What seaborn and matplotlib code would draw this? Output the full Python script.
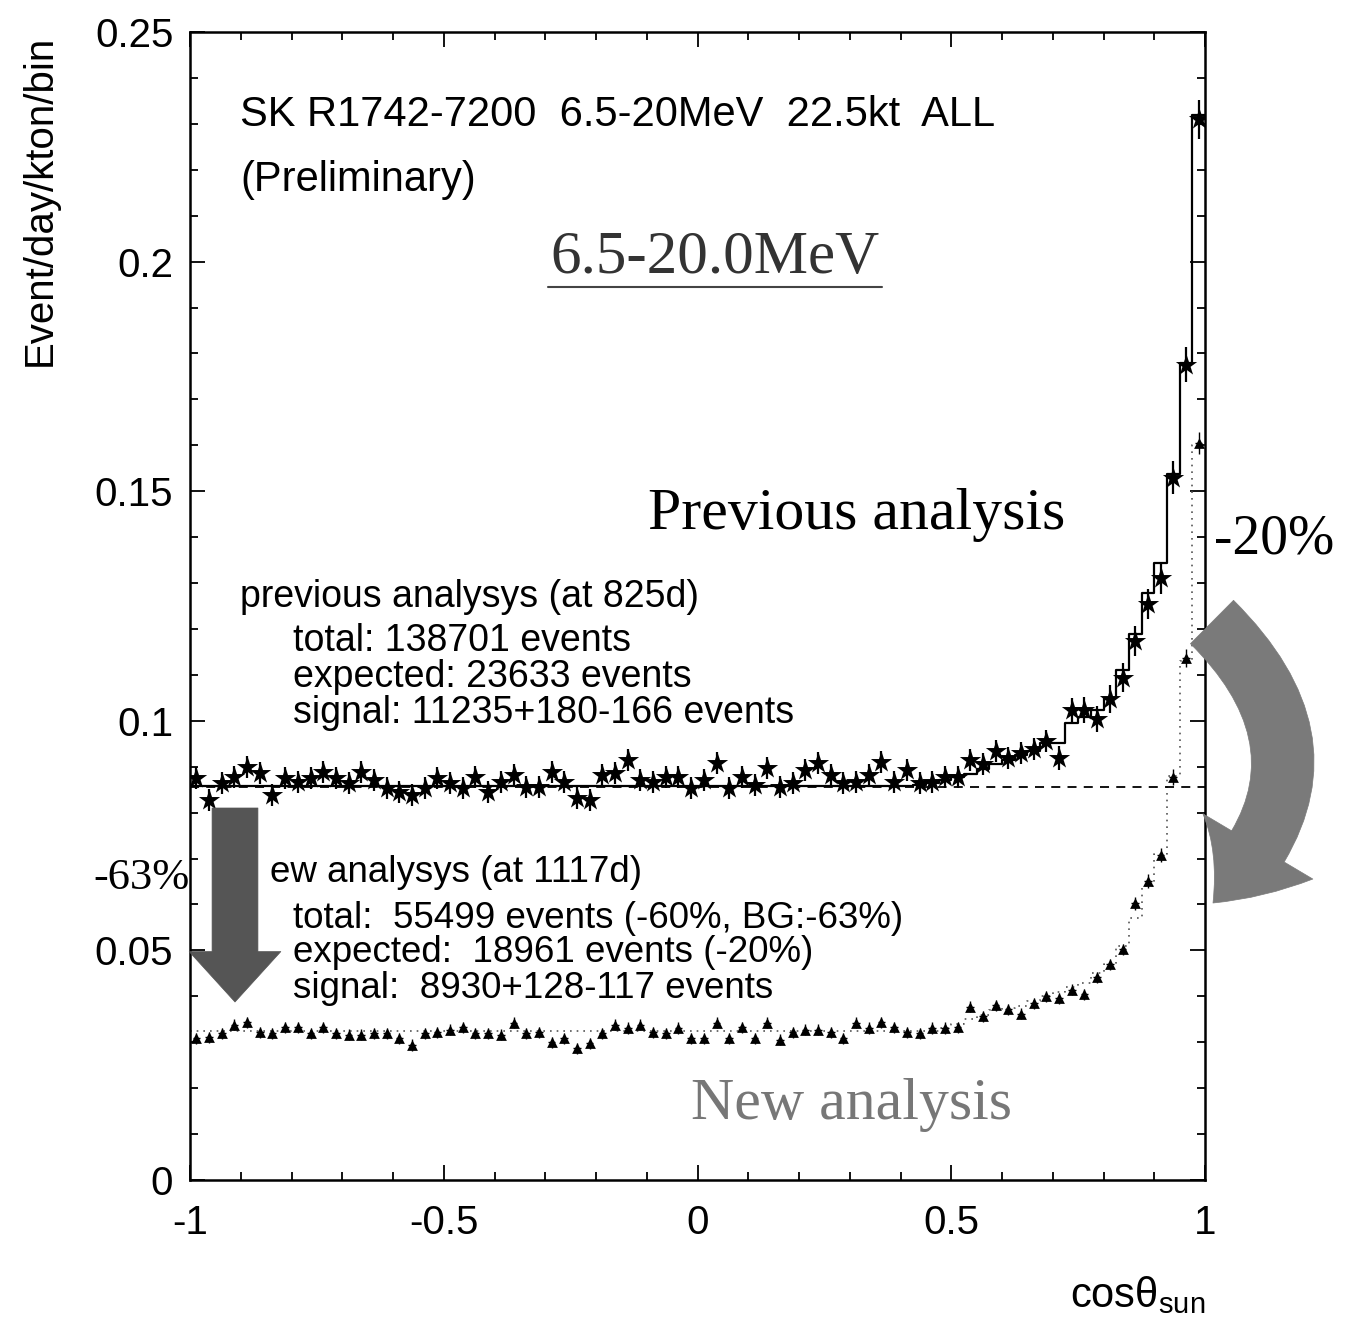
import numpy as np
import pandas as pd
import matplotlib
matplotlib.use("Agg")
import matplotlib.pyplot as plt
import seaborn as sns
from matplotlib.patches import FancyArrowPatch
from matplotlib.lines import Line2D
from matplotlib.ticker import MultipleLocator

# ---------------- data ----------------
bin_edges = np.linspace(-1.0, 1.0, 81)

prev_obs = [0.0875, 0.0827, 0.0864, 0.0878, 0.0900, 0.0886, 0.0838, 0.0875, 0.0867, 0.0875,
            0.0888, 0.0875, 0.0864, 0.0888, 0.0871, 0.0854, 0.0845, 0.0838, 0.0854, 0.0875,
            0.0864, 0.0854, 0.0878, 0.0845, 0.0867, 0.0882, 0.0856, 0.0856, 0.0888, 0.0867,
            0.0832, 0.0827, 0.0882, 0.0886, 0.0915, 0.0871, 0.0867, 0.0878, 0.0878, 0.0854,
            0.0871, 0.0908, 0.0854, 0.0878, 0.0860, 0.0897, 0.0856, 0.0864, 0.0893, 0.0908,
            0.0882, 0.0864, 0.0867, 0.0882, 0.0910, 0.0867, 0.0893, 0.0864, 0.0867, 0.0878,
            0.0878, 0.0915, 0.0906, 0.0934, 0.0919, 0.0930, 0.0939, 0.0957, 0.0919, 0.1023,
            0.1023, 0.1004, 0.1047, 0.1094, 0.1174, 0.1254, 0.1310, 0.1529, 0.1775, 0.2310]

prev_err = [0.0024] * 68 + [0.0026, 0.0027, 0.0028, 0.0029, 0.0030, 0.0031, 0.0032,
                            0.0033, 0.0034, 0.0036, 0.0038, 0.0042]

prev_expected = [0.0858] * 57 + [0.0860, 0.0865, 0.0870, 0.0878, 0.0885, 0.0895, 0.0906,
                                 0.0915, 0.0925, 0.0934, 0.0952, 0.0952, 0.0995, 0.1008,
                                 0.1023, 0.1050, 0.1110, 0.1190, 0.1278, 0.1344, 0.1537,
                                 0.1780, 0.2320]

new_obs = [0.0309, 0.0311, 0.0320, 0.0338, 0.0344, 0.0322, 0.0320, 0.0333, 0.0333, 0.0320,
           0.0333, 0.0320, 0.0316, 0.0316, 0.0320, 0.0320, 0.0309, 0.0294, 0.0320, 0.0322,
           0.0327, 0.0333, 0.0320, 0.0320, 0.0316, 0.0342, 0.0320, 0.0322, 0.0300, 0.0309,
           0.0287, 0.0298, 0.0320, 0.0338, 0.0331, 0.0338, 0.0322, 0.0320, 0.0331, 0.0309,
           0.0309, 0.0342, 0.0309, 0.0333, 0.0309, 0.0342, 0.0305, 0.0322, 0.0327, 0.0327,
           0.0322, 0.0309, 0.0342, 0.0331, 0.0344, 0.0333, 0.0322, 0.0320, 0.0331, 0.0331,
           0.0333, 0.0377, 0.0357, 0.0381, 0.0372, 0.0362, 0.0385, 0.0400, 0.0396, 0.0414,
           0.0405, 0.0442, 0.0470, 0.0503, 0.0603, 0.0651, 0.0708, 0.0878, 0.1137, 0.1605]

new_err = [0.0012] * 74 + [0.0014, 0.0015, 0.0016, 0.0018, 0.0020, 0.0024]

new_expected = [0.0325] * 59 + [0.0330, 0.0340, 0.0350, 0.0360, 0.0370, 0.0375, 0.0380,
                                0.0390, 0.0400, 0.0410, 0.0420, 0.0430, 0.0450, 0.0470,
                                0.0510, 0.0570, 0.0640, 0.0710, 0.0880, 0.1130, 0.1600]

flat_level = 0.0856

x_ticks = [-1, -0.5, 0, 0.5, 1]
x_tick_labels = ["-1", "-0.5", "0", "0.5", "1"]
y_ticks = [0, 0.05, 0.1, 0.15, 0.2, 0.25]
y_tick_labels = ["0", "0.05", "0.1", "0.15", "0.2", "0.25"]

# ---------------- style ----------------
sns.set_theme(style="ticks")
plt.rcParams["font.family"] = ["Liberation Sans", "DejaVu Sans"]
plt.rcParams["text.color"] = "black"
plt.rcParams["xtick.labelcolor"] = "black"
plt.rcParams["ytick.labelcolor"] = "black"
SERIF = ["Liberation Serif", "DejaVu Serif"]

W, H = 1348, 1336
fig = plt.figure(figsize=(W / 100, H / 100), dpi=100)
fig.patch.set_facecolor("white")
ax = fig.add_axes([190 / W, 1 - 1180 / H, (1205 - 190) / W, (1180 - 32) / H])
ax.set_facecolor("white")

centers = 0.5 * (bin_edges[:-1] + bin_edges[1:])
half = 0.5 * (bin_edges[1] - bin_edges[0])

# expected histograms (step lines)
df_prev_exp = pd.DataFrame({"x": bin_edges, "y": prev_expected + [prev_expected[-1]]})
sns.lineplot(data=df_prev_exp, x="x", y="y", drawstyle="steps-post", color="black",
             linewidth=1.6, estimator=None, sort=False, ax=ax)
df_new_exp = pd.DataFrame({"x": bin_edges, "y": new_expected + [new_expected[-1]]})
sns.lineplot(data=df_new_exp, x="x", y="y", drawstyle="steps-post", color="#555555",
             linewidth=1.2, linestyle=(0, (1, 3)), estimator=None, sort=False, ax=ax)

# dashed flat level
ax.axhline(flat_level, color="black", linestyle=(0, (5, 4)), linewidth=1.3)

# observed data
ax.errorbar(centers, prev_obs, yerr=prev_err, xerr=half * 0.7, fmt="none",
            ecolor="black", elinewidth=1.6, capsize=0)
sns.scatterplot(x=centers, y=prev_obs, marker="*", s=260, color="black",
                linewidth=0, ax=ax, zorder=5)
ax.errorbar(centers, new_obs, yerr=new_err, xerr=half * 0.6, fmt="none",
            ecolor="black", elinewidth=1.0, capsize=0)
sns.scatterplot(x=centers, y=new_obs, marker="^", s=60, color="black",
                linewidth=0, ax=ax, zorder=5)

# axes
ax.set_xlim(-1, 1)
ax.set_ylim(0, 0.25)
ax.set_xticks(x_ticks)
ax.set_xticklabels(x_tick_labels)
ax.set_yticks(y_ticks)
ax.set_yticklabels(y_tick_labels)
ax.xaxis.set_minor_locator(MultipleLocator(0.1))
ax.yaxis.set_minor_locator(MultipleLocator(0.01))
ax.tick_params(which="both", direction="in", top=True, right=True, color="black", width=1.3)
ax.tick_params(which="major", length=11)
ax.tick_params(which="minor", length=6)
ax.tick_params(axis="y", which="major", labelsize=29, pad=12, labelcolor="black")
ax.tick_params(axis="x", which="major", labelsize=29, pad=17, labelcolor="black")
for s in ax.spines.values():
    s.set_linewidth(1.8)
    s.set_color("black")
ax.set_xlabel("")
ax.set_ylabel("")


def ftext(x, y, s, **kw):
    kw.setdefault("color", "black")
    return fig.text(x / W, 1 - y / H, s, **kw)


# axis titles
ftext(40, 200, "Event/day/kton/bin", rotation=90, ha="center", va="center", fontsize=29)
ftext(1205, 1295, "cosθ$_{\\mathregular{sun}}$", ha="right", va="center", fontsize=30)

# annotations
ftext(240, 115, "SK R1742-7200  6.5-20MeV  22.5kt  ALL", ha="left", va="center", fontsize=30)
ftext(240, 180, "(Preliminary)", ha="left", va="center", fontsize=30)
ftext(715, 258, "6.5-20.0MeV", ha="center", va="center", fontsize=44, family=SERIF,
      color="#333333")
fig.add_artist(Line2D([548 / W, 882 / W], [1 - 287 / H, 1 - 287 / H],
                      color="#444444", linewidth=1.5))
ftext(857, 515, "Previous analysis", ha="center", va="center", fontsize=43, family=SERIF)
ftext(852, 1105, "New analysis", ha="center", va="center", fontsize=43, family=SERIF,
      color="#777777")
ftext(1214, 540, "-20%", ha="left", va="center", fontsize=40, family=SERIF)
ftext(190, 878, "-63%", ha="right", va="center", fontsize=32, family=SERIF)

ftext(240, 597, "previous analysys (at 825d)", ha="left", va="center", fontsize=27)
ftext(293, 641, "total: 138701 events", ha="left", va="center", fontsize=27)
ftext(293, 677, "expected: 23633 events", ha="left", va="center", fontsize=27)
ftext(293, 713, "signal: 11235+180-166 events", ha="left", va="center", fontsize=27)

ftext(270, 873, "ew analysys (at 1117d)", ha="left", va="center", fontsize=26.5)
ftext(293, 918, "total:  55499 events (-60%, BG:-63%)", ha="left", va="center", fontsize=26.5)
ftext(293, 953, "expected:  18961 events (-20%)", ha="left", va="center", fontsize=26.5)
ftext(293, 989, "signal:  8930+128-117 events", ha="left", va="center", fontsize=26.5)

# arrows
down = FancyArrowPatch((235 / W, 1 - 808 / H), (235 / W, 1 - 1002 / H),
                       transform=fig.transFigure,
                       arrowstyle="simple,tail_width=1.0,head_width=2.0,head_length=1.1",
                       mutation_scale=33, shrinkA=0, shrinkB=0,
                       facecolor="#555555", edgecolor="#555555", linewidth=0.5)
fig.add_artist(down)

curved = FancyArrowPatch((1212 / W, 1 - 622 / H), (1213 / W, 1 - 903 / H),
                         transform=fig.transFigure,
                         connectionstyle="arc3,rad=-0.5",
                         arrowstyle="simple,tail_width=1.1,head_width=2.3,head_length=1.3",
                         mutation_scale=40, shrinkA=0, shrinkB=0,
                         facecolor="#7a7a7a", edgecolor="#7a7a7a", linewidth=0.5)
fig.add_artist(curved)

fig.savefig("out.png", dpi=100, facecolor="white")
